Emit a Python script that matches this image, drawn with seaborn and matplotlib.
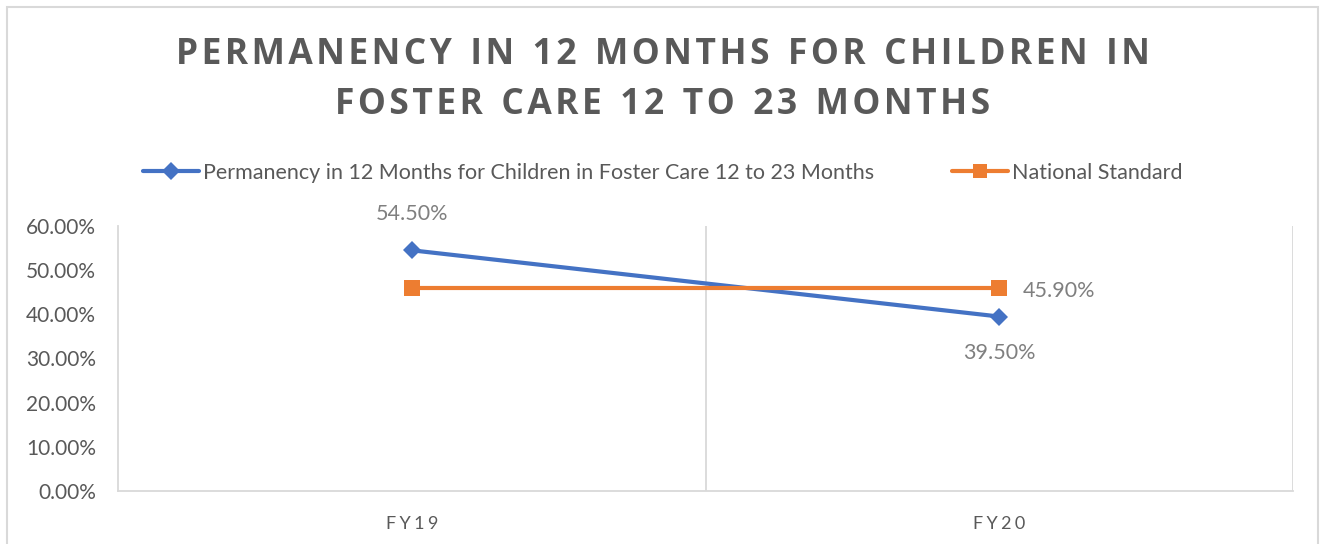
import matplotlib
matplotlib.use("Agg")
import matplotlib.pyplot as plt
import matplotlib.patches as mpatches
from matplotlib.lines import Line2D
from matplotlib.ticker import FuncFormatter
import pandas as pd
import seaborn as sns

# Data
categories = ["FY19", "FY20"]
series_names = ["Permanency in 12 Months for Children in Foster Care 12 to 23 Months",
                "National Standard"]
permanency = [0.545, 0.395]
national_standard = [0.459, 0.459]
y_ticks = [0.0, 0.1, 0.2, 0.3, 0.4, 0.5, 0.6]
title_lines = ["PERMANENCY IN 12 MONTHS FOR CHILDREN IN", "FOSTER CARE 12 TO 23 MONTHS"]

BLUE = "#4472C4"
ORANGE = "#ED7D31"
GRID = "#D9D9D9"
TXT = "#595959"
LBL = "#7F7F7F"

df = pd.DataFrame({
    "x": list(range(len(categories))) * 2,
    "value": permanency + national_standard,
    "series": [series_names[0]] * len(categories) + [series_names[1]] * len(categories),
})

sns.set_theme(style="white")
plt.rcParams["font.family"] = ["Lato", "DejaVu Sans"]


def spaced(s, sep="\u200a", word_sep="  "):
    # fake letter spacing
    return word_sep.join(sep.join(w) for w in s.split(" "))


fig = plt.figure(figsize=(13.25, 5.44), dpi=100)
ax = fig.add_axes([118 / 1325, 1 - 491 / 544, (1293 - 118) / 1325, (491 - 226) / 544])

sns.lineplot(data=df, x="x", y="value", hue="series", style="series",
             palette=[BLUE, ORANGE], markers=["D", "s"], dashes=False,
             linewidth=3, markersize=10, markeredgewidth=0, ax=ax, legend=False)
# bump marker sizes a bit
ax.lines[1].set_markersize(11.5)
ax.lines[0].set_markersize(9.5)

ax.set_xlim(-0.5, len(categories) - 0.5)
ax.set_ylim(0, 0.6)
ax.set_yticks(y_ticks)
ax.yaxis.set_major_formatter(FuncFormatter(lambda v, p: f"{v * 100:.2f}%"))
ax.set_xticks(range(len(categories)))
ax.set_xticklabels([spaced(c, "\u2009\u200a") for c in categories])
ax.set_xticks([i + 0.5 for i in range(len(categories))], minor=True)
ax.grid(True, axis="x", which="minor", color=GRID, linewidth=1.3)
ax.grid(False, axis="y")
ax.tick_params(axis="y", length=0, pad=16, labelsize=15, labelcolor=TXT)
ax.tick_params(axis="x", which="both", length=0, pad=18, labelsize=13, labelcolor=TXT)
ax.set_xlabel("")
ax.set_ylabel("")
for side in ["top", "right"]:
    ax.spines[side].set_visible(False)
for side in ["left", "bottom"]:
    ax.spines[side].set_color(GRID)
    ax.spines[side].set_linewidth(1.3)

# data labels
ax.annotate(f"{permanency[0] * 100:.2f}%", (0, permanency[0]), xytext=(0, 19),
            textcoords="offset points", ha="center", va="bottom", fontsize=15.5, color=LBL)
ax.annotate(f"{permanency[1] * 100:.2f}%", (1, permanency[1]), xytext=(0, -19),
            textcoords="offset points", ha="center", va="top", fontsize=15.5, color=LBL)
ax.annotate(f"{national_standard[1] * 100:.2f}%", (1, national_standard[1]), xytext=(17, -2),
            textcoords="offset points", ha="left", va="center", fontsize=15.5, color=LBL)

# title
for i, line in enumerate(title_lines):
    fig.text(0.5, 1 - (55 + 50 * i) / 544, spaced(line), ha="center", va="center",
             fontsize=25.5, fontweight="bold", color=TXT, family=["Open Sans", "DejaVu Sans"])

# legend
handles = [Line2D([], [], color=BLUE, marker="D", markersize=9, linewidth=3, markeredgewidth=0),
           Line2D([], [], color=ORANGE, marker="s", markersize=10, linewidth=3, markeredgewidth=0)]
fig.legend(handles, series_names, loc="center", bbox_to_anchor=(0.5, 1 - 173 / 544), ncol=2,
           frameon=False, fontsize=15.5, labelcolor=TXT, handlelength=2.6, handletextpad=0.2,
           columnspacing=3.6)

# chart border
fig.patches.append(mpatches.Rectangle((7 / 1325, -0.01), 1311 / 1325, 1 - 7 / 544 + 0.01,
                                      transform=fig.transFigure, fill=False,
                                      edgecolor=GRID, linewidth=1.5))

fig.savefig("out.png", dpi=100)
